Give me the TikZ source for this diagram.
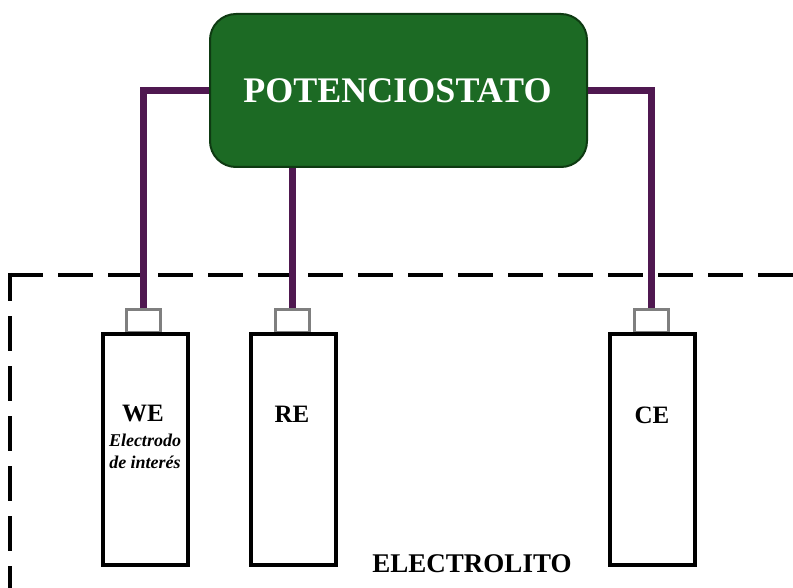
\documentclass[tikz,border=0pt]{standalone}
\usepackage{fontspec}
\setmainfont{Liberation Serif}
\definecolor{potgreen}{HTML}{1C6A24}
\definecolor{potedge}{HTML}{0E3A12}
\definecolor{wirecol}{HTML}{4F1850}
\definecolor{capgray}{HTML}{7F7F7F}
\begin{document}
\begin{tikzpicture}[x=1pt,y=-1pt,
  potbox/.style={draw=potedge, line width=2pt, fill=potgreen, rounded corners=26pt,
    minimum width=377pt, minimum height=153pt, inner sep=0pt},
  electrode/.style={draw=black, line width=4pt, fill=white,
    minimum width=85pt, minimum height=231pt, inner sep=0pt},
  elcap/.style={draw=capgray, line width=3pt, fill=white,
    minimum width=34pt, minimum height=22pt, inner sep=0pt},
  wire/.style={draw=wirecol, line width=7pt, line join=miter},
  border/.style={draw=black, line width=4pt, dash pattern=on 35pt off 15pt},
  elabel/.style={font=\fontsize{25}{28}\selectfont\bfseries, inner sep=0pt},
  esub/.style={font=\fontsize{18}{22}\selectfont\bfseries\itshape, align=center, inner sep=0pt}
]
\useasboundingbox (0,0) rectangle (793,588);
\clip (0,0) rectangle (793,588);

% electrolyte boundary
\draw[border] (8,275) -- (810,275);
\draw[border, dash phase=7pt] (10,273) -- (10,610);

% potentiostat
\node[potbox] (pot) at (398.5,90.5) {};
\node[font=\fontsize{36}{40}\selectfont\bfseries, text=white, inner sep=0pt] (pottext) at (397.5,91) {POTENCIOSTATO};

% electrode caps and bodies
\node[elcap] (wecap) at (143.5,321) {};
\node[elcap] (recap) at (292,321) {};
\node[elcap] (cecap) at (651.5,321) {};
\node[electrode] (we) at (145.5,449.5) {};
\node[electrode] (re) at (293,449.5) {};
\node[electrode] (ce) at (652.5,449) {};

% wiring to the potentiostat
\draw[wire] (pot.west) -| (wecap.north);
\draw[wire] (pot.south -| recap.north) -- (recap.north);
\draw[wire] (pot.east) -| (cecap.north);

% labels
\node[elabel] (welbl) at (143,414) {WE};
\node[esub] (wesub) at (145,451) {Electrodo\\de interés};
\node[elabel] (relbl) at (292,414) {RE};
\node[elabel] (celbl) at (652,415) {CE};
\node[elabel, font=\fontsize{27}{30}\selectfont\bfseries] (elec) at (472,564) {ELECTROLITO};
\end{tikzpicture}
\end{document}
